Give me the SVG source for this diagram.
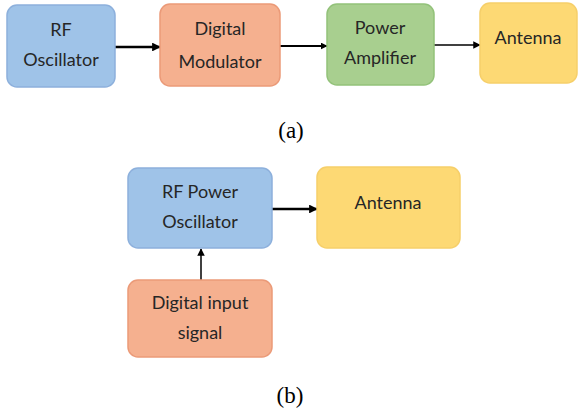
<svg xmlns="http://www.w3.org/2000/svg" width="580" height="414" viewBox="0 0 580 414">
<defs>
<style>
.t{font-family:Lato,"Open Sans","Liberation Sans",sans-serif;font-size:18px;fill:#262626;text-anchor:middle}
.cap{font-family:"Liberation Serif",serif;font-size:23px;fill:#000;text-anchor:middle}
.blue{fill:#9fc3e8;stroke:#8db0dc;stroke-width:1.5}
.org{fill:#f5b08f;stroke:#eb9a78;stroke-width:1.5}
.grn{fill:#a8cf8f;stroke:#93c27a;stroke-width:1.5}
.yel{fill:#fdd974;stroke:#f6cf69;stroke-width:1.5}
.c{stroke:#000;fill:none}
</style>
<marker id="ah2" viewBox="0 0 10 10" refX="9" refY="5" markerWidth="3.5" markerHeight="3.5" orient="auto"><path d="M0,0L10,5L0,10z" fill="#000"/></marker>
<marker id="ah3" viewBox="0 0 10 10" refX="9" refY="5" markerWidth="5" markerHeight="5" orient="auto"><path d="M0,0L10,5L0,10z" fill="#000"/></marker>
</defs>
<g id="connectors">
<line class="c" x1="115" y1="47" x2="160" y2="47" stroke-width="2.5" marker-end="url(#ah2)"/>
<line class="c" x1="280" y1="46" x2="327" y2="46" stroke-width="2" marker-end="url(#ah2)"/>
<line class="c" x1="434" y1="45" x2="480" y2="45" stroke-width="1.5" marker-end="url(#ah3)"/>
<line class="c" x1="272" y1="209" x2="317" y2="209" stroke-width="2.5" marker-end="url(#ah2)"/>
<line class="c" x1="201" y1="280" x2="201" y2="249" stroke-width="1.5" marker-end="url(#ah3)"/>
</g>
<g id="rf-osc"><rect class="blue" x="7" y="5" width="108" height="82" rx="10"/><text class="t" x="61" y="36">RF</text><text class="t" x="61" y="66">Oscillator</text></g>
<g id="dig-mod"><rect class="org" x="160" y="4" width="120" height="82" rx="10"/><text class="t" x="220" y="35">Digital</text><text class="t" x="220" y="68">Modulator</text></g>
<g id="pwr-amp"><rect class="grn" x="327" y="4" width="107" height="81" rx="10"/><text class="t" x="380" y="34">Power</text><text class="t" x="380" y="64">Amplifier</text></g>
<g id="antenna-a"><rect class="yel" x="480" y="3" width="97" height="80" rx="10"/><text class="t" x="528" y="44">Antenna</text></g>
<text class="cap" x="291" y="138">(a)</text>
<g id="rf-pwr-osc"><rect class="blue" x="128" y="168" width="144" height="80" rx="10"/><text class="t" x="200" y="198">RF Power</text><text class="t" x="200" y="228">Oscillator</text></g>
<g id="antenna-b"><rect class="yel" x="317" y="167" width="143" height="81" rx="10"/><text class="t" x="388" y="209">Antenna</text></g>
<g id="dig-in"><rect class="org" x="128" y="280" width="144" height="77" rx="10"/><text class="t" x="200" y="309">Digital input</text><text class="t" x="200" y="339">signal</text></g>
<text class="cap" x="290" y="403">(b)</text>
</svg>
